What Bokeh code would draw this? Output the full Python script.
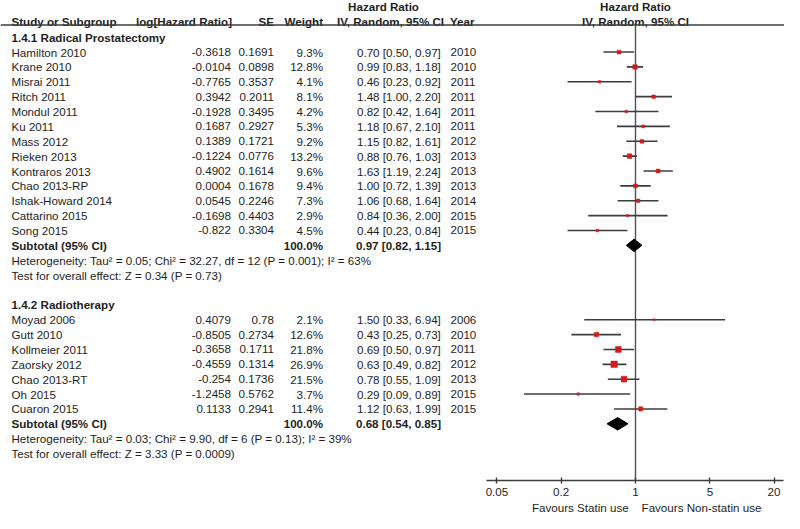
from bokeh.plotting import figure
from bokeh.models import (Range1d, LogScale, LogAxis, FixedTicker,
                          CustomJSTickFormatter, Title, ColumnDataSource)
from bokeh.core.properties import value
from bokeh.embed import file_html
from bokeh.resources import INLINE

# ---------------- data ----------------
studies_rp = ["Hamilton 2010", "Krane 2010", "Misrai  2011", "Ritch 2011", "Mondul 2011",
              "Ku 2011", "Mass 2012", "Rieken 2013", "Kontraros 2013", "Chao 2013-RP",
              "Ishak-Howard 2014", "Cattarino 2015", "Song 2015"]
loghr_rp = ["-0.3618", "-0.0104", "-0.7765", "0.3942", "-0.1928", "0.1687", "0.1389",
            "-0.1224", "0.4902", "0.0004", "0.0545", "-0.1698", "-0.822"]
se_rp = ["0.1691", "0.0898", "0.3537", "0.2011", "0.3495", "0.2927", "0.1721",
         "0.0776", "0.1614", "0.1678", "0.2246", "0.4403", "0.3304"]
weight_rp = [9.3, 12.8, 4.1, 8.1, 4.2, 5.3, 9.2, 13.2, 9.6, 9.4, 7.3, 2.9, 4.5]
hr_rp = [0.70, 0.99, 0.46, 1.48, 0.82, 1.18, 1.15, 0.88, 1.63, 1.00, 1.06, 0.84, 0.44]
lo_rp = [0.50, 0.83, 0.23, 1.00, 0.42, 0.67, 0.82, 0.76, 1.19, 0.72, 0.68, 0.36, 0.23]
hi_rp = [0.97, 1.18, 0.92, 2.20, 1.64, 2.10, 1.61, 1.03, 2.24, 1.39, 1.64, 2.00, 0.84]
year_rp = ["2010", "2010", "2011", "2011", "2011", "2011", "2012", "2013", "2013",
           "2013", "2014", "2015", "2015"]

studies_rt = ["Moyad 2006", "Gutt 2010", "Kollmeier 2011", "Zaorsky 2012",
              "Chao 2013-RT", "Oh 2015", "Cuaron 2015"]
loghr_rt = ["0.4079", "-0.8505", "-0.3658", "-0.4559", "-0.254", "-1.2458", "0.1133"]
se_rt = ["0.78", "0.2734", "0.1711", "0.1314", "0.1736", "0.5762", "0.2941"]
weight_rt = [2.1, 12.6, 21.8, 26.9, 21.5, 3.7, 11.4]
hr_rt = [1.50, 0.43, 0.69, 0.63, 0.78, 0.29, 1.12]
lo_rt = [0.33, 0.25, 0.50, 0.49, 0.55, 0.09, 0.63]
hi_rt = [6.94, 0.73, 0.97, 0.82, 1.09, 0.89, 1.99]
year_rt = ["2006", "2010", "2011", "2012", "2013", "2015", "2015"]

group_titles = ["1.4.1 Radical Prostatectomy", "1.4.2 Radiotherapy"]
sub_hr = [0.97, 0.68]
sub_lo = [0.82, 0.54]
sub_hi = [1.15, 0.85]
sub_weight = ["100.0%", "100.0%"]
heterogeneity = ["Heterogeneity: Tau\u00b2 = 0.05; Chi\u00b2 = 32.27, df = 12 (P = 0.001); I\u00b2 = 63%",
                 "Heterogeneity: Tau\u00b2 = 0.03; Chi\u00b2 = 9.90, df = 6 (P = 0.13); I\u00b2 = 39%"]
overall = ["Test for overall effect: Z = 0.34 (P = 0.73)",
           "Test for overall effect: Z = 3.33 (P = 0.0009)"]

axis_ticks = [0.05, 0.2, 1, 5, 20]
favours_left = "Favours Statin use"
favours_right = "Favours Non-statin use"

# ---------------- layout constants ----------------
W, H = 784, 513
ROW0, ROWH = 52.7, 15.49          # reference pixel of first study row, row pitch


def k_of(ref_px):
    return (ref_px - ROW0) / ROWH


Y_TOP = k_of(-1.0)
Y_BOT = k_of(499.0)
X_NULL, DEC = 635.0, 106.5         # pixel of HR=1, pixels per decade


def hr_at(px):
    return 10 ** ((px - X_NULL) / DEC)


FONT = value("Liberation Sans")
FSZ = "11.6px"
FS = value(FSZ)
TXT = "#1e1e1e"
LINEC = "#3c3c3c"
RED = "#d01c1c"

# column positions (pixels)
X_NAME, X_LOG, X_SE, X_W, X_CI, X_YEAR = 11, 230.5, 273.5, 322.5, 356.5, 450

# ---------------- row bookkeeping ----------------
rows1 = list(range(0, len(studies_rp)))
sub1 = len(studies_rp)
g2_title = sub1 + 4
rows2 = list(range(g2_title + 1, g2_title + 1 + len(studies_rt)))
sub2 = rows2[-1] + 1
sub_rows = [sub1, sub2]
title_rows = [-1, g2_title]
het_rows = [sub1 + 1, sub2 + 1]
test_rows = [sub1 + 2, sub2 + 2]

names = studies_rp + studies_rt
loghrs = loghr_rp + loghr_rt
ses = se_rp + se_rt
weights = weight_rp + weight_rt
hrs = hr_rp + hr_rt
los = lo_rp + lo_rt
his = hi_rp + hi_rt
years = year_rp + year_rt
ys = rows1 + rows2

src = ColumnDataSource(dict(
    name=names, loghr=loghrs, se=ses,
    w=[f"{w:.1f}%" for w in weights],
    ci=[f"{h:.2f} [{l:.2f}, {u:.2f}]" for h, l, u in zip(hrs, los, his)],
    year=years, y=ys, hr=hrs, lo=los, hi=his,
    size=[max(1.8, 1.25 * w ** 0.5) for w in weights],
))

# ---------------- figure ----------------
p = figure(width=W, height=H, x_range=Range1d(0, W), y_range=Range1d(Y_BOT, Y_TOP),
           x_axis_type=None, y_axis_type=None, output_backend="svg",
           toolbar_location=None, min_border=0, min_border_bottom=28,
           outline_line_color=None, background_fill_color="white",
           border_fill_color="white")
p.extra_x_ranges = {"hr": Range1d(hr_at(0), hr_at(W))}
p.extra_x_scales = {"hr": LogScale()}
p.grid.visible = False

common = dict(text_font=FONT, text_font_size=FS, text_color=TXT, text_baseline="middle")

# header
hdr_k = k_of(20.7)
top_k = k_of(5.7)
hdr = ColumnDataSource(dict(
    x=[X_NAME, 231.5, X_SE, X_W, 390, X_YEAR - 0.5, 383],
    y=[hdr_k] * 6 + [top_k],
    t=["Study or Subgroup", "log[Hazard Ratio]", "SE", "Weight", "IV, Random, 95% CI", "Year",
       "Hazard Ratio"],
    a=["left", "right", "right", "right", "center", "left", "center"],
))
p.text(x="x", y="y", text="t", text_align="a", source=hdr, text_font_style="bold", **common)
p.text(x=[1, 1], y=[top_k, hdr_k], text=["Hazard Ratio", "IV, Random, 95% CI"],
       text_align="center", text_font_style="bold", x_range_name="hr", **common)
line_k = k_of(24.5)
p.segment(x0=[0], x1=[W], y0=[line_k], y1=[line_k], line_color=LINEC, line_width=1.3)

# study rows
p.text(x=X_NAME, y="y", text="name", text_align="left", source=src, **common)
p.text(x=X_LOG, y="y", text="loghr", text_align="right", source=src, **common)
p.text(x=X_SE, y="y", text="se", text_align="right", source=src, **common)
p.text(x=X_W, y="y", text="w", text_align="right", source=src, **common)
p.text(x=X_CI, y="y", text="ci", text_align="left", source=src, **common)
p.text(x=X_YEAR, y="y", text="year", text_align="left", source=src, **common)

# group titles, subtotals, stats
p.text(x=X_NAME, y=title_rows, text=group_titles, text_align="left",
       text_font_style="bold", **common)
p.text(x=X_NAME, y=sub_rows, text=["Subtotal (95% CI)"] * 2, text_align="left",
       text_font_style="bold", **common)
p.text(x=X_W, y=sub_rows, text=sub_weight, text_align="right",
       text_font_style="bold", **common)
p.text(x=X_CI - 1, y=sub_rows,
       text=[f"{h:.2f} [{l:.2f}, {u:.2f}]" for h, l, u in zip(sub_hr, sub_lo, sub_hi)],
       text_align="left", text_font_style="bold", **common)
p.text(x=X_NAME, y=het_rows, text=heterogeneity, text_align="left", **common)
p.text(x=X_NAME, y=test_rows, text=overall, text_align="left", **common)

# null line
p.segment(x0=[1], x1=[1], y0=[line_k], y1=[Y_BOT], x_range_name="hr",
          line_color="#505050", line_width=1.4)

# CI lines and squares
p.segment(x0="lo", x1="hi", y0="y", y1="y", source=src, x_range_name="hr",
          line_color=LINEC, line_width=1.6)
p.scatter(x="hr", y="y", size="size", marker="square", source=src, x_range_name="hr",
          fill_color=RED, line_color=RED, line_width=0.5)

# diamonds
dh = 0.42
p.patches(xs=[[l, h, u, h] for h, l, u in zip(sub_hr, sub_lo, sub_hi)],
          ys=[[k, k - dh, k, k + dh] for k in sub_rows],
          x_range_name="hr", fill_color="black", line_color="black")

# axis
ax = LogAxis(x_range_name="hr", ticker=FixedTicker(ticks=axis_ticks),
             formatter=CustomJSTickFormatter(code="return tick.toString();"),
             bounds=(hr_at(485.5), hr_at(782.5)))
ax.axis_line_color = LINEC
ax.axis_line_width = 1.4
ax.major_tick_line_color = LINEC
ax.major_tick_line_width = 1.4
ax.major_tick_in = 3
ax.major_tick_out = 3
ax.minor_tick_line_color = None
ax.major_label_standoff = 4
ax.major_label_text_font = "Liberation Sans"
ax.major_label_text_font_size = FSZ
ax.major_label_text_color = TXT
p.add_layout(ax, "below")

# "Favours" captions under the axis, split around HR = 1
gap = "\u00a0" * 4
fav = Title(text=favours_left + gap + favours_right, align="left",
            offset=X_NULL - 7 - 96.5, standoff=0,
            text_font="Liberation Sans", text_font_size=FSZ,
            text_font_style="normal", text_color=TXT)
p.add_layout(fav, "below")

open("out.html", "w").write(file_html(p, INLINE))
